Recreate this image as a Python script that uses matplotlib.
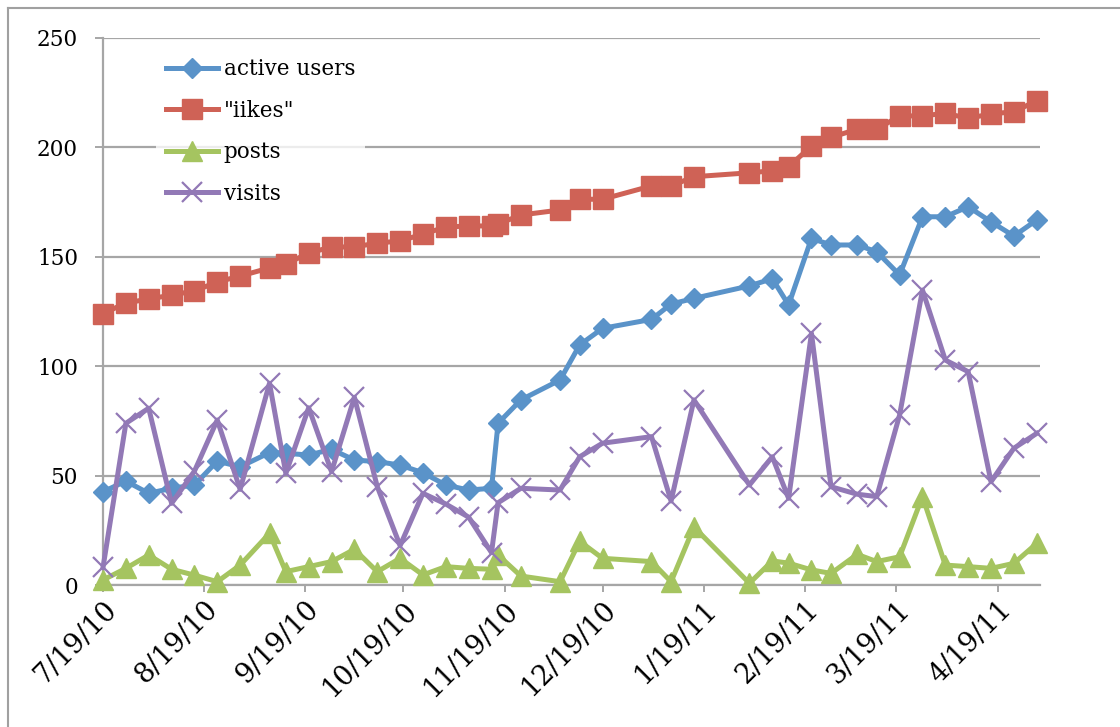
"""Weekly community activity: active users, likes, posts and visits."""

from datetime import datetime

import matplotlib
import matplotlib.dates as mdates
import matplotlib.pyplot as plt
import numpy as np
from matplotlib.lines import Line2D
from matplotlib.ticker import FuncFormatter

matplotlib.use("Agg")

# ------------------------------------------------------------------ #
# Data
# ------------------------------------------------------------------ #

DATES = [
    "2010-07-19", "2010-07-26", "2010-08-02", "2010-08-09", "2010-08-16",
    "2010-08-23", "2010-08-30", "2010-09-08", "2010-09-13", "2010-09-20",
    "2010-09-27", "2010-10-04", "2010-10-11", "2010-10-18", "2010-10-25",
    "2010-11-01", "2010-11-08", "2010-11-15", "2010-11-17", "2010-11-24",
    "2010-12-06", "2010-12-12", "2010-12-19", "2011-01-03", "2011-01-09",
    "2011-01-16", "2011-02-02", "2011-02-09", "2011-02-14", "2011-02-21",
    "2011-02-27", "2011-03-07", "2011-03-13", "2011-03-20", "2011-03-27",
    "2011-04-03", "2011-04-10", "2011-04-17", "2011-04-24", "2011-05-01",
]

ACTIVE_USERS = [
    42.6, 47.5, 41.9, 44.2, 45.7, 56.6, 54.0, 60.5, 60.2, 59.4,
    62.0, 57.1, 56.4, 54.8, 51.3, 45.7, 43.4, 44.2, 73.9, 84.6,
    93.7, 109.7, 117.3, 121.4, 128.4, 131.0, 136.7, 140.0, 128.0, 158.4,
    155.4, 155.4, 152.3, 141.7, 168.3, 168.3, 172.9, 166.0, 159.5, 166.8,
]

LIKES = [
    124.0, 128.9, 130.7, 132.5, 134.4, 138.5, 141.2, 144.9, 146.7, 151.7,
    154.5, 154.5, 156.3, 157.2, 160.4, 163.6, 164.1, 164.1, 165.0, 169.1,
    171.4, 176.3, 176.3, 182.4, 182.4, 186.6, 188.4, 189.3, 191.2, 200.6,
    204.6, 208.3, 208.3, 214.4, 214.4, 215.6, 213.3, 215.3, 216.3, 221.3,
]

POSTS = [
    2.3, 7.6, 13.7, 7.2, 4.5, 1.5, 9.1, 23.6, 6.1, 8.4,
    10.7, 16.3, 6.1, 12.2, 4.6, 8.4, 7.6, 7.2, 13.7, 4.1,
    1.5, 20.0, 12.2, 10.7, 1.5, 26.5, 0.8, 11.0, 10.0, 6.9,
    5.3, 14.0, 10.7, 12.9, 40.4, 9.1, 8.4, 7.6, 9.9, 19.0,
]

VISITS = [
    8.0, 73.9, 80.8, 37.3, 52.0, 75.4, 43.7, 92.2, 51.0, 81.0,
    51.8, 85.8, 45.0, 18.0, 41.9, 37.0, 31.0, 14.8, 37.6, 44.2,
    43.4, 58.6, 64.8, 67.8, 38.4, 84.6, 45.7, 58.6, 39.6, 115.0,
    44.9, 41.5, 40.4, 77.7, 134.8, 102.8, 97.5, 47.2, 62.5, 69.3,
]

SERIES_LABELS = ["active users", '"iikes"', "posts", "visits"]
Y_TICKS = [0, 50, 100, 150, 200, 250]

# ------------------------------------------------------------------ #
# Style
# ------------------------------------------------------------------ #

COLOURS = ["#5A93C9", "#CF6256", "#A5C460", "#9279B6"]
MARKERS = ["D", "s", "^", "x"]
MARKER_SIZES = [10, 14, 14, 15]
GRID = "#A6A6A6"
FONT = ["DejaVu Serif"]
FONT_SIZE = 15.5
XLABEL_SIZE = 19.5

plt.rcParams["font.family"] = FONT
plt.rcParams["font.size"] = FONT_SIZE


def date_label(x, _pos=None):
    d = mdates.num2date(x)
    return f"{d.month}/{d.day}/{d.year % 100:02d}"


def main():
    dates = np.array([datetime.strptime(d, "%Y-%m-%d") for d in DATES])

    fig = plt.figure(figsize=(11.2, 7.27), dpi=100)
    ax = fig.add_axes([103 / 1120, 1 - 585 / 727, (1040 - 103) / 1120, (585 - 38) / 727])

    series = [ACTIVE_USERS, LIKES, POSTS, VISITS]
    for i, vals in enumerate(series):
        ax.plot(dates, vals, color=COLOURS[i], lw=3.6, marker=MARKERS[i],
                ms=MARKER_SIZES[i], mec=COLOURS[i], mew=1.6 if MARKERS[i] == "x" else 1,
                label=SERIES_LABELS[i], zorder=3 + i, clip_on=False)

    ax.set_ylim(0, 250)
    ax.set_yticks(Y_TICKS)
    ax.set_xlim(datetime(2010, 7, 19), datetime(2011, 5, 2))
    ax.xaxis.set_major_locator(mdates.MonthLocator(bymonthday=19))
    ax.xaxis.set_major_formatter(FuncFormatter(date_label))

    ax.grid(axis="y", color=GRID, lw=1.6)
    ax.set_axisbelow(True)
    for side in ("top", "right"):
        ax.spines[side].set_visible(False)
    for side in ("left", "bottom"):
        ax.spines[side].set_color(GRID)
        ax.spines[side].set_linewidth(1.6)

    ax.tick_params(axis="y", length=6, width=1.4, color=GRID, pad=12, labelsize=FONT_SIZE)
    ax.tick_params(axis="x", length=5, width=1.4, color=GRID, pad=3, labelsize=XLABEL_SIZE)
    for lab in ax.get_xticklabels():
        lab.set_rotation(45)
        lab.set_ha("right")
        lab.set_va("top")
        lab.set_rotation_mode("anchor")

    leg = ax.legend(loc="upper left", bbox_to_anchor=(0.045, 1.0), frameon=True,
                    facecolor="white", edgecolor="none", fancybox=False,
                    handlelength=2.45, handletextpad=0.25, labelspacing=0.9,
                    borderpad=0.45, fontsize=FONT_SIZE)
    leg.set_zorder(2.5)

    # chart area border (left and top edges visible in the screenshot)
    fig.add_artist(Line2D([8 / 1120, 8 / 1120], [0, 1 - 8 / 727], color="#A0A0A0", lw=1.5))
    fig.add_artist(Line2D([8 / 1120, 1], [1 - 8 / 727, 1 - 8 / 727], color="#A0A0A0", lw=1.5))

    fig.savefig("out.png", dpi=100)
    plt.close(fig)


if __name__ == "__main__":
    main()
